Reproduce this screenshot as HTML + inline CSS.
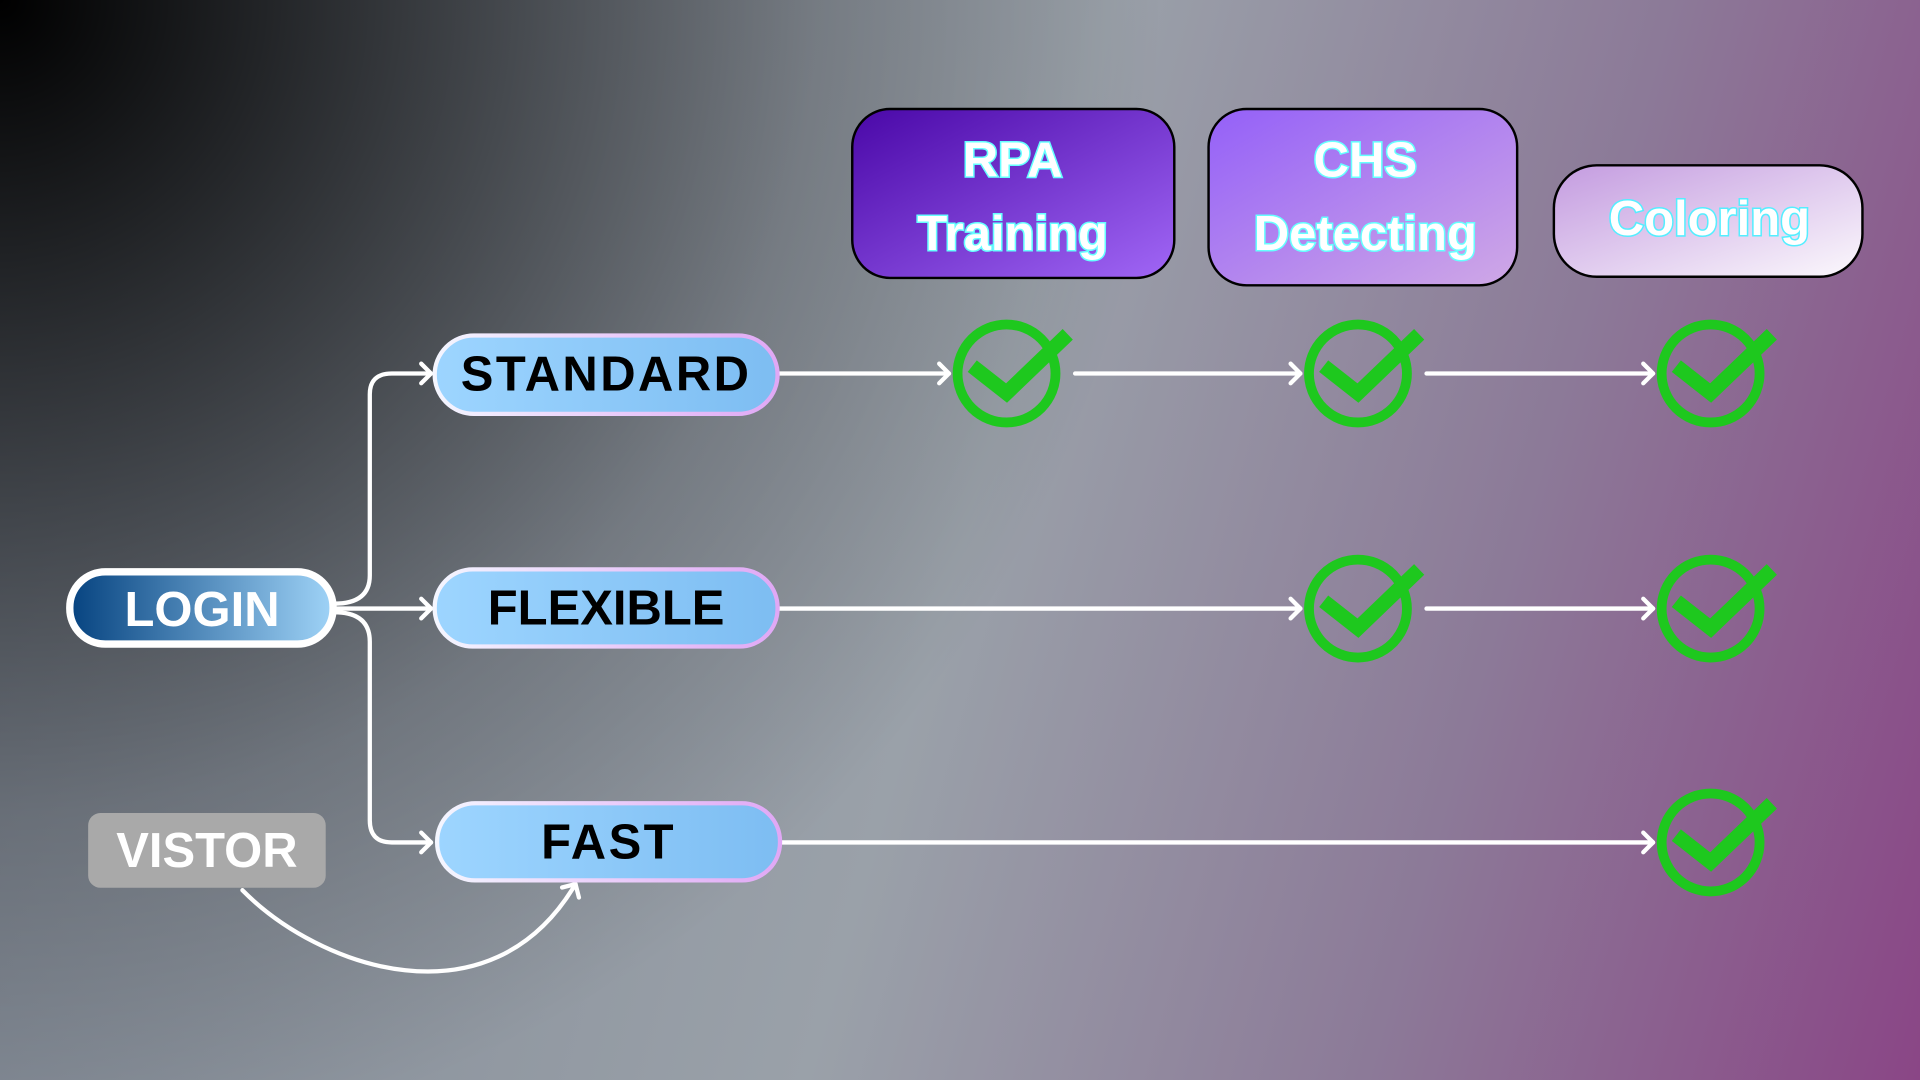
<!DOCTYPE html>
<html><head><meta charset="utf-8"><style>
html,body{margin:0;padding:0;width:1920px;height:1080px;overflow:hidden}
svg{display:block}
text{font-family:"Liberation Sans",sans-serif;font-weight:bold;text-anchor:middle;dominant-baseline:central}
</style></head><body>
<svg width="1920" height="1080" viewBox="0 0 1568 882" preserveAspectRatio="none">
<defs>
<linearGradient id="bg" gradientUnits="userSpaceOnUse" x1="0" y1="0" x2="1683" y2="477">
<stop offset="0" stop-color="#7c8490"/>
<stop offset="0.5" stop-color="#9aa1a9"/>
<stop offset="0.75" stop-color="#8c7a98"/>
<stop offset="1" stop-color="#8a4686"/>
</linearGradient>
<radialGradient id="dark" gradientUnits="userSpaceOnUse" cx="0" cy="0" r="950">
<stop offset="0" stop-color="#000" stop-opacity="1"/>
<stop offset="0.35" stop-color="#000" stop-opacity="0.6"/>
<stop offset="0.7" stop-color="#000" stop-opacity="0.2"/>
<stop offset="1" stop-color="#000" stop-opacity="0"/>
</radialGradient>
<linearGradient id="login" x1="0" x2="1"><stop offset="0" stop-color="#064380"/><stop offset="1" stop-color="#9fd3f7"/></linearGradient>
<linearGradient id="blue" x1="0" x2="1"><stop offset="0" stop-color="#9dd5ff"/><stop offset="1" stop-color="#7dbdf2"/></linearGradient>
<linearGradient id="bstroke" x1="0" x2="1"><stop offset="0" stop-color="#f4f6ff"/><stop offset="1" stop-color="#e0a8f5"/></linearGradient>
<linearGradient id="rpa" x1="0" y1="0" x2="1" y2="1"><stop offset="0" stop-color="#4a08a8"/><stop offset="1" stop-color="#a066f5"/></linearGradient>
<linearGradient id="chs" x1="0" y1="0" x2="1" y2="1"><stop offset="0" stop-color="#9460f8"/><stop offset="1" stop-color="#cfa8e6"/></linearGradient>
<linearGradient id="col" x1="0" y1="0" x2="1" y2="1"><stop offset="0" stop-color="#c49ce0"/><stop offset="1" stop-color="#fbf8fc"/></linearGradient>
<marker id="ah" viewBox="-12 -12 24 24" refX="0" refY="0" markerWidth="24" markerHeight="24" orient="auto" markerUnits="userSpaceOnUse">
<path d="M-8,-8 L0,0 L-8,8" fill="none" stroke="#fff" stroke-width="3.5" stroke-linecap="round" stroke-linejoin="round"/>
</marker>
<g id="chk">
<circle cx="0" cy="0" r="40" fill="none" stroke="#1ec81e" stroke-width="8"/>
<polyline points="-28,-6 0,16 50,-32" fill="none" stroke="#1ec81e" stroke-width="12" stroke-linejoin="miter"/>
</g>
</defs>
<rect width="1568" height="882" fill="url(#bg)"/>
<rect width="1568" height="882" fill="url(#dark)"/>

<g fill="none" stroke="#fff" stroke-width="3.5" stroke-linecap="round">
<path d="M273,493 Q302,493 302,470 V322 Q302,305 320,305 H352" marker-end="url(#ah)"/>
<path d="M273,497 H352" marker-end="url(#ah)"/>
<path d="M273,500 Q302,500 302,524 V670 Q302,688 320,688 H352" marker-end="url(#ah)"/>
<path d="M198,727 C260,790 400,840 470,722" marker-end="url(#ah)"/>
<path d="M636,305 H775" marker-end="url(#ah)"/>
<path d="M878,305 H1062" marker-end="url(#ah)"/>
<path d="M1165,305 H1350" marker-end="url(#ah)"/>
<path d="M636,497 H1062" marker-end="url(#ah)"/>
<path d="M1165,497 H1350" marker-end="url(#ah)"/>
<path d="M638,688 H1350" marker-end="url(#ah)"/>
</g>

<rect x="57" y="467" width="215" height="59" rx="29" fill="url(#login)" stroke="#fff" stroke-width="6"/>
<text x="165" y="498" font-size="40" fill="#fff">LOGIN</text>
<rect x="72" y="664" width="194" height="61" rx="10" fill="#a9a9a9"/>
<text x="169" y="695" font-size="40" fill="#fff">VISTOR</text>

<rect x="355" y="274" width="280" height="64" rx="32" fill="url(#blue)" stroke="url(#bstroke)" stroke-width="3.5"/>
<text x="495" y="306" font-size="40" fill="#000" letter-spacing="2">STANDARD</text>
<rect x="355" y="465" width="280" height="63" rx="31" fill="url(#blue)" stroke="url(#bstroke)" stroke-width="3.5"/>
<text x="495" y="497" font-size="40" fill="#000">FLEXIBLE</text>
<rect x="357" y="656" width="280" height="63" rx="31" fill="url(#blue)" stroke="url(#bstroke)" stroke-width="3.5"/>
<text x="497" y="688" font-size="40" fill="#000" letter-spacing="2">FAST</text>

<g style="paint-order:stroke" stroke="#6ff" stroke-width="2.5">
<rect x="697" y="90" width="261" height="136" rx="30" fill="url(#rpa)" stroke="#000" stroke-width="4"/>
<text x="827" y="131" font-size="40" fill="#fff">RPA</text>
<text x="827" y="191" font-size="40" fill="#fff">Training</text>
<rect x="988" y="90" width="250" height="142" rx="30" fill="url(#chs)" stroke="#000" stroke-width="4"/>
<text x="1115" y="131" font-size="40" fill="#fff">CHS</text>
<text x="1115" y="191" font-size="40" fill="#fff">Detecting</text>
<rect x="1270" y="136" width="250" height="89" rx="34" fill="url(#col)" stroke="#000" stroke-width="4"/>
<text x="1396" y="179" font-size="40" fill="#fff" stroke="#5ef">Coloring</text>
</g>

<use href="#chk" x="822" y="305"/>
<use href="#chk" x="1109" y="305"/>
<use href="#chk" x="1397" y="305"/>
<use href="#chk" x="1109" y="497"/>
<use href="#chk" x="1397" y="497"/>
<use href="#chk" x="1397" y="688"/>
</svg>
</body></html>
